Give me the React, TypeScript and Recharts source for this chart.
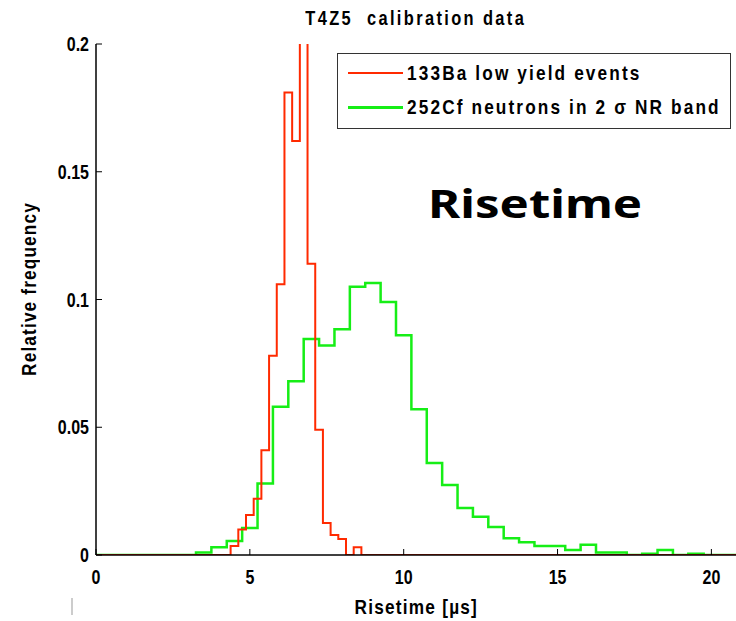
import React from 'react';
import { LineChart, Line, XAxis, YAxis } from 'recharts';

// 133Ba low yield events, bin centres (µs) and relative frequency, 0.25 µs bins
const baRisetime = [4.5, 4.75, 5.0, 5.25, 5.5, 5.75, 6.0, 6.25, 6.5, 6.75, 7.0, 7.25, 7.5, 7.75, 8.0, 8.25, 8.5];
const baFreq = [0.0035, 0.01, 0.0157, 0.022, 0.041, 0.078, 0.106, 0.181, 0.162, 0.24, 0.114, 0.049, 0.0125, 0.0078, 0.0063, 0, 0.003];

// 252Cf neutrons in 2 sigma NR band, 0.5 µs bins
const cfRisetime = [
  3.5, 4.0, 4.5, 5.0, 5.5, 6.0, 6.5, 7.0, 7.5, 8.0, 8.5, 9.0, 9.5, 10.0, 10.5, 11.0, 11.5,
  12.0, 12.5, 13.0, 13.5, 14.0, 14.5, 15.0, 15.5, 16.0, 16.5, 17.0, 17.5, 18.0, 18.5, 19.0, 19.5,
];
const cfFreq = [
  0.001, 0.003, 0.0055, 0.0106, 0.028, 0.058, 0.068, 0.0845, 0.082, 0.0884, 0.105, 0.1065, 0.099, 0.086, 0.057, 0.036, 0.0274,
  0.0184, 0.015, 0.011, 0.0066, 0.005, 0.0035, 0.0035, 0.002, 0.004, 0.001, 0.001, 0, 0.0005, 0.002, 0, 0.0005,
];

const xTicks = [0, 5, 10, 15, 20];
const yTicks = [0, 0.05, 0.1, 0.15, 0.2];
const X_MAX = 20.8;

const RED = '#ff2a00';
const GREEN = '#16ee16';
const FONT = "'Liberation Sans', Arial, Helvetica, sans-serif";
const NARROW = 0.82; // the original figure uses a condensed Helvetica

// turn bin centres into a stepped outline that starts and ends on zero
const toSteps = (centres: number[], values: number[], width: number) => {
  const pts = [{ x: 0, y: 0 }];
  centres.forEach((c, i) => pts.push({ x: c - width / 2, y: values[i] }));
  pts.push({ x: centres[centres.length - 1] + width / 2, y: 0 });
  pts.push({ x: X_MAX, y: 0 });
  return pts;
};

const baSteps = toSteps(baRisetime, baFreq, 0.25);
const cfSteps = toSteps(cfRisetime, cfFreq, 0.5);

const XTick = ({ x, y, payload }: any) => (
  <text
    transform={`translate(${x},${y}) scale(0.8,1)`}
    textAnchor="middle"
    dy="0.71em"
    fill="#000"
    fontSize={20}
    fontWeight={700}
    fontFamily={FONT}
  >
    {payload.value}
  </text>
);

const YTick = ({ x, y, payload }: any) => (
  <text
    transform={`translate(${x},${y}) scale(0.8,1)`}
    textAnchor="end"
    dy="0.36em"
    fill="#000"
    fontSize={20}
    fontWeight={700}
    fontFamily={FONT}
  >
    {`${payload.value}`}
  </text>
);

// condensed html text
const Narrow = ({ children, origin, style }: any) => (
  <span
    style={{
      display: 'inline-block',
      whiteSpace: 'nowrap',
      fontWeight: 700,
      transform: `scaleX(${NARROW})`,
      transformOrigin: origin,
      ...style,
    }}
  >
    {children}
  </span>
);

const App = () => {
  return (
    <div style={{ position: 'absolute', left: 0, top: 0, width: 736, height: 621, background: '#fff', fontFamily: FONT }}>
      <LineChart width={736} height={621} margin={{ top: 44, right: 0, bottom: 0, left: 0 }}>
        <XAxis
          xAxisId="b"
          type="number"
          dataKey="x"
          domain={[0, X_MAX]}
          ticks={xTicks}
          allowDataOverflow
          height={66}
          tickSize={-6}
          tickMargin={21}
          axisLine={{ stroke: '#000', strokeWidth: 1.5 }}
          tickLine={{ stroke: '#000' }}
          tick={<XTick />}
        />
        <XAxis
          xAxisId="t"
          orientation="top"
          type="number"
          dataKey="x"
          domain={[0, X_MAX]}
          ticks={xTicks}
          allowDataOverflow
          height={0}
          tickSize={-6}
          tick={false}
          axisLine={{ stroke: '#000', strokeWidth: 1.5 }}
          tickLine={{ stroke: '#000' }}
        />
        <YAxis
          yAxisId="l"
          type="number"
          domain={[0, 0.2]}
          ticks={yTicks}
          allowDataOverflow
          width={96}
          tickSize={-6}
          tickMargin={13}
          axisLine={{ stroke: '#000', strokeWidth: 1.5 }}
          tickLine={{ stroke: '#000' }}
          tick={<YTick />}
        />
        <Line
          xAxisId="b"
          yAxisId="l"
          data={cfSteps}
          dataKey="y"
          name="252Cf neutrons in 2 σ NR band"
          type="stepAfter"
          stroke={GREEN}
          strokeWidth={2.5}
          dot={false}
          isAnimationActive={false}
        />
        <Line
          xAxisId="b"
          yAxisId="l"
          data={baSteps}
          dataKey="y"
          name="133Ba low yield events"
          type="stepAfter"
          stroke={RED}
          strokeWidth={2}
          dot={false}
          isAnimationActive={false}
        />
      </LineChart>

      {/* title */}
      <div style={{ position: 'absolute', left: 96, width: 640, top: 6, textAlign: 'center', lineHeight: '24px' }}>
        <Narrow origin="center" style={{ fontSize: 20, letterSpacing: 2.9 }}>
          T4Z5&nbsp;&nbsp;calibration data
        </Narrow>
      </div>

      {/* legend */}
      <div style={{ position: 'absolute', left: 337, top: 53, width: 392, height: 74, border: '1px solid #333', background: '#fff' }}>
        <div style={{ position: 'absolute', left: 10, top: 6, display: 'flex', alignItems: 'center', whiteSpace: 'nowrap' }}>
          <div style={{ width: 55, height: 2, background: RED, marginRight: 4 }} />
          <Narrow origin="left center" style={{ fontSize: 21, letterSpacing: 2.6, lineHeight: '26px' }}>
            133Ba low yield events
          </Narrow>
        </div>
        <div style={{ position: 'absolute', left: 10, top: 40, display: 'flex', alignItems: 'center', whiteSpace: 'nowrap' }}>
          <div style={{ width: 55, height: 3, background: GREEN, marginRight: 4 }} />
          <Narrow origin="left center" style={{ fontSize: 21, letterSpacing: 2.6, lineHeight: '26px' }}>
            252Cf neutrons in 2 σ NR band
          </Narrow>
        </div>
      </div>

      {/* big annotation */}
      <div
        style={{
          position: 'absolute',
          left: 428,
          top: 183,
          fontSize: 39,
          fontWeight: 700,
          fontFamily: "'Noto Sans', 'Open Sans', sans-serif",
          lineHeight: '1',
          transform: 'scaleX(1.26)',
          transformOrigin: 'left center',
          whiteSpace: 'nowrap',
        }}
      >
        Risetime
      </div>

      {/* axis titles */}
      <div style={{ position: 'absolute', left: 96, width: 640, top: 594, textAlign: 'center', lineHeight: '26px' }}>
        <Narrow origin="center" style={{ fontSize: 21, letterSpacing: 1.5 }}>
          Risetime [µs]
        </Narrow>
      </div>
      <div
        style={{
          position: 'absolute',
          left: 30,
          top: 289,
          transform: 'translate(-50%, -50%) rotate(-90deg)',
          whiteSpace: 'nowrap',
          lineHeight: '24px',
        }}
      >
        <Narrow origin="center" style={{ fontSize: 21, letterSpacing: 1.4 }}>
          Relative frequency
        </Narrow>
      </div>
      <div style={{ position: 'absolute', left: 71, top: 598, width: 2, height: 17, background: '#ccc' }} />
    </div>
  );
};

export default App;
